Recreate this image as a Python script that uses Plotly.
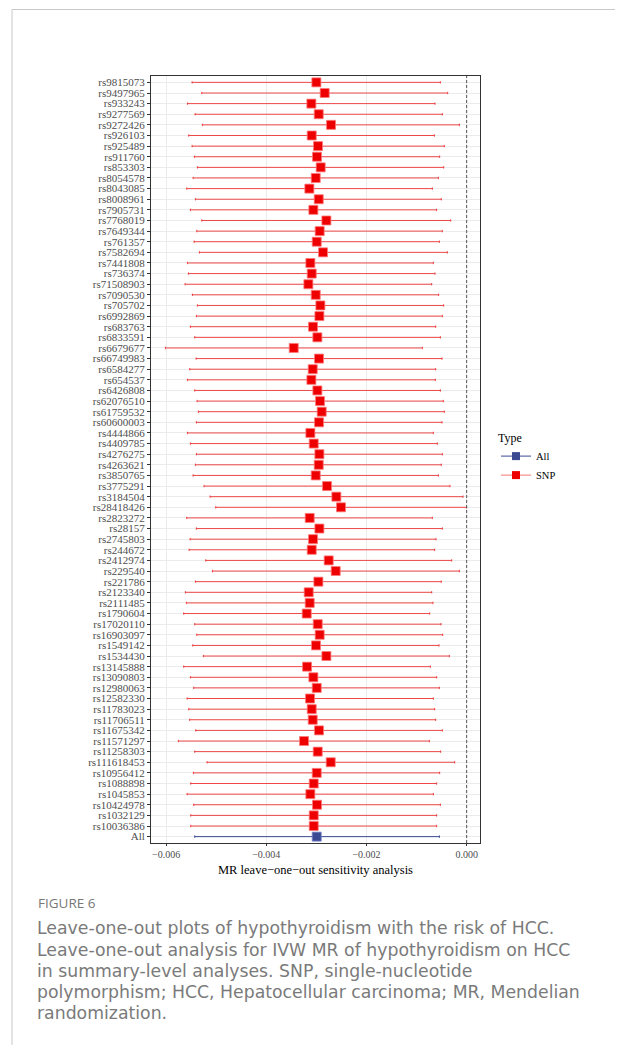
import plotly.graph_objects as go

# top-to-bottom order
snps = ["rs9815073","rs9497965","rs933243","rs9277569","rs9272426","rs926103","rs925489","rs911760",
        "rs853303","rs8054578","rs8043085","rs8008961","rs7905731","rs7768019","rs7649344","rs761357",
        "rs7582694","rs7441808","rs736374","rs71508903","rs7090530","rs705702","rs6992869","rs683763",
        "rs6833591","rs6679677","rs66749983","rs6584277","rs654537","rs6426808","rs62076510","rs61759532",
        "rs60600003","rs4444866","rs4409785","rs4276275","rs4263621","rs3850765","rs3775291","rs3184504",
        "rs28418426","rs2823272","rs28157","rs2745803","rs244672","rs2412974","rs229540","rs221786",
        "rs2123340","rs2111485","rs1790604","rs17020110","rs16903097","rs1549142","rs1534430","rs13145888",
        "rs13090803","rs12980063","rs12582330","rs11783023","rs11706511","rs11675342","rs11571297","rs11258303",
        "rs111618453","rs10956412","rs1088898","rs1045853","rs10424978","rs1032129","rs10036386"]
# values in units of 1e-3
b = [-3.000,-2.834,-3.100,-2.953,-2.707,-3.093,-2.967,-2.987,
     -2.914,-3.013,-3.140,-2.953,-3.060,-2.800,-2.934,-2.993,
     -2.867,-3.120,-3.093,-3.160,-3.013,-2.920,-2.940,-3.067,
     -2.980,-3.452,-2.947,-3.073,-3.100,-2.980,-2.927,-2.894,
     -2.947,-3.120,-3.053,-2.940,-2.953,-3.013,-2.787,-2.601,
     -2.508,-3.133,-2.940,-3.067,-3.093,-2.754,-2.614,-2.960,
     -3.153,-3.133,-3.193,-2.973,-2.934,-3.007,-2.800,-3.186,
     -3.060,-2.993,-3.126,-3.093,-3.073,-2.947,-3.246,-2.973,
     -2.714,-2.993,-3.053,-3.120,-2.987,-3.053,-3.053]
lo = [-5.481,-5.288,-5.574,-5.421,-5.275,-5.548,-5.481,-5.435,
      -5.375,-5.461,-5.588,-5.415,-5.515,-5.288,-5.388,-5.441,
      -5.335,-5.574,-5.554,-5.621,-5.475,-5.375,-5.395,-5.515,
      -5.428,-6.013,-5.401,-5.528,-5.574,-5.428,-5.381,-5.355,
      -5.395,-5.574,-5.515,-5.395,-5.415,-5.461,-5.242,-5.122,
      -5.009,-5.588,-5.395,-5.521,-5.541,-5.208,-5.075,-5.415,
      -5.614,-5.594,-5.648,-5.428,-5.388,-5.468,-5.255,-5.648,
      -5.515,-5.448,-5.581,-5.548,-5.528,-5.408,-5.754,-5.428,
      -5.182,-5.455,-5.508,-5.581,-5.448,-5.508,-5.508]
hi = [-0.525,-0.379,-0.632,-0.486,-0.146,-0.645,-0.446,-0.539,
      -0.459,-0.565,-0.685,-0.506,-0.599,-0.319,-0.486,-0.545,
      -0.386,-0.665,-0.632,-0.698,-0.559,-0.459,-0.486,-0.619,
      -0.525,-0.885,-0.492,-0.619,-0.625,-0.525,-0.466,-0.446,
      -0.492,-0.665,-0.585,-0.486,-0.506,-0.565,-0.333,-0.073,
      -0.002,-0.685,-0.486,-0.612,-0.639,-0.299,-0.146,-0.506,
      -0.698,-0.672,-0.738,-0.512,-0.479,-0.552,-0.346,-0.725,
      -0.599,-0.545,-0.665,-0.639,-0.619,-0.486,-0.745,-0.519,
      -0.239,-0.539,-0.599,-0.665,-0.525,-0.599,-0.599]
all_label = "All"
all_b, all_lo, all_hi = -2.993, -5.428, -0.545

x_ticks = [-0.006, -0.004, -0.002, 0.000]
x_ticktext = ["\u22120.006", "\u22120.004", "\u22120.002", "0.000"]
x_title = "MR leave\u2212one\u2212out sensitivity analysis"

RED = "#EE0000"
BLUE = "#3B4992"
SERIF = "Liberation Serif, Times New Roman, serif"

sc = 1e-3
snp_b = [v * sc for v in b]
snp_plus = [(h - v) * sc for v, h in zip(b, hi)]
snp_minus = [(v - l) * sc for v, l in zip(b, lo)]

fig = go.Figure()
fig.add_trace(go.Scatter(
    x=snp_b, y=snps, mode="markers", showlegend=False,
    marker=dict(symbol="square", size=9, color=RED, line=dict(color="rgba(255,120,120,0.8)", width=1)),
    error_x=dict(type="data", symmetric=False, array=snp_plus, arrayminus=snp_minus,
                 color="rgba(238,30,30,0.8)", thickness=1, width=1.2),
))
fig.add_trace(go.Scatter(
    x=[all_b * sc], y=[all_label], mode="markers", showlegend=False,
    marker=dict(symbol="square", size=9, color=BLUE, line=dict(color="rgba(120,130,200,0.8)", width=1)),
    error_x=dict(type="data", symmetric=False, array=[(all_hi - all_b) * sc], arrayminus=[(all_b - all_lo) * sc],
                 color=BLUE, thickness=1, width=1.2),
))
# legend-only traces
fig.add_trace(go.Scatter(x=[None], y=[None], mode="lines+markers", name="All",
                         marker=dict(symbol="square", size=8, color=BLUE), line=dict(color=BLUE, width=1)))
fig.add_trace(go.Scatter(x=[None], y=[None], mode="lines+markers", name="SNP",
                         marker=dict(symbol="square", size=8, color=RED), line=dict(color="rgba(238,30,30,0.6)", width=1)))

cats = list(reversed(snps + [all_label]))
n = len(cats)

# page body has an 8px margin: figure coordinates = page coordinates - 8
OFF = 8
L, R, T, B = 151 - OFF, 480 - OFF, 76 - OFF, 843 - OFF
W, H = 623 - 2 * OFF, 1053 - 2 * OFF
def px(xp):
    return (xp - OFF - L) / (R - L)
def py(yp):
    return (B - (yp - OFF)) / (B - T)

shapes = [
    dict(type="line", xref="x", yref="paper", x0=0, x1=0, y0=0, y1=1,
         line=dict(color="#555555", width=1, dash="3px,2px")),
    dict(type="line", xref="paper", yref="paper", x0=px(12), x1=px(623), y0=py(9.5), y1=py(9.5),
         line=dict(color="#C8C8C8", width=1)),
    dict(type="line", xref="paper", yref="paper", x0=px(12), x1=px(12), y0=py(9.5), y1=py(1053),
         line=dict(color="#C8C8C8", width=1)),
]

cap_font = "DejaVu Sans, Open Sans, sans-serif"
caption_lines = [
    "Leave-one-out plots of hypothyroidism with the risk of HCC.",
    "Leave-one-out analysis for IVW MR of hypothyroidism on HCC",
    "in summary-level analyses. SNP, single-nucleotide",
    "polymorphism; HCC, Hepatocellular carcinoma; MR, Mendelian",
    "randomization.",
]
annotations = [
    dict(text=x_title, xref="paper", yref="paper", x=0.5, y=py(870),
         xanchor="center", yanchor="middle", showarrow=False,
         font=dict(family=SERIF, size=12.5, color="black")),
    dict(text="FIGURE 6", xref="paper", yref="paper", x=px(36), y=py(903),
         xanchor="left", yanchor="middle", showarrow=False,
         font=dict(family="Open Sans, sans-serif", size=13.5, color="#777777")),
]
line_y = [928, 949.5, 971, 992.5, 1013]
for t, yy in zip(caption_lines, line_y):
    annotations.append(dict(text=t, xref="paper", yref="paper", x=px(35), y=py(yy),
                            xanchor="left", yanchor="middle", showarrow=False,
                            font=dict(family=cap_font, size=17.3, color="#7A7A7A")))

fig.update_layout(
    width=W, height=H, margin=dict(l=L, r=W - R, t=T, b=H - B, autoexpand=False),
    paper_bgcolor="white", plot_bgcolor="white",
    font=dict(family=SERIF, color="black"),
    shapes=shapes, annotations=annotations,
    legend=dict(title=dict(text="Type", font=dict(family=SERIF, size=12, color="black")),
                x=px(496), y=py(426), xanchor="left", yanchor="top",
                font=dict(family=SERIF, size=10.5, color="black"),
                bgcolor="rgba(0,0,0,0)", tracegroupgap=2, itemwidth=30),
    xaxis=dict(range=[-0.006301, 0.000266], tickvals=x_ticks, ticktext=x_ticktext,
               showgrid=True, gridcolor="#EBEBEB", gridwidth=1, zeroline=False,
               ticks="outside", ticklen=2, tickcolor="#333333", tickwidth=1,
               tickfont=dict(family=SERIF, size=10, color="#4D4D4D"),
               showline=True, linecolor="#333333", linewidth=1, mirror=True),
    yaxis=dict(type="category", categoryorder="array", categoryarray=cats,
               tickmode="array", tickvals=cats, ticktext=cats,
               range=[-0.6, n - 1 + 0.6],
               showgrid=True, gridcolor="#EBEBEB", gridwidth=1,
               ticks="outside", ticklen=3, tickcolor="#333333", tickwidth=1,
               tickfont=dict(family=SERIF, size=11, color="#4D4D4D"),
               showline=True, linecolor="#333333", linewidth=1, mirror=True),
)

fig.write_html("out.html")
